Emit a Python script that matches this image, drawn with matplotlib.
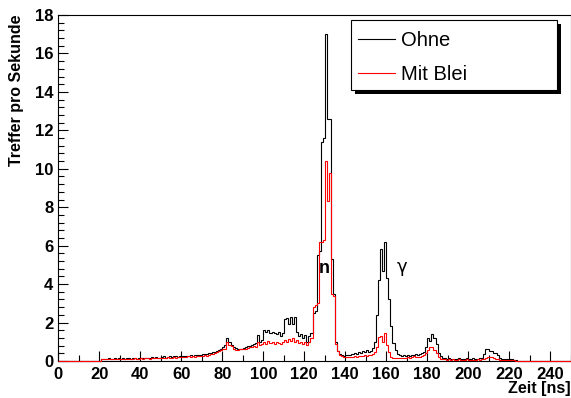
import numpy as np
import matplotlib
matplotlib.use("Agg")
import matplotlib.pyplot as plt
from matplotlib.patches import Rectangle
from matplotlib.lines import Line2D
from matplotlib.ticker import MultipleLocator

# Trefferraten je 1-ns-Bin, beginnend bei t = 20 ns
t_start = 20
ohne = [
    0.00, 0.10, 0.12, 0.10, 0.14, 0.12, 0.10, 0.15, 0.12, 0.14,
    0.12, 0.15, 0.13, 0.18, 0.14, 0.12, 0.16, 0.14, 0.13, 0.15,
    0.14, 0.16, 0.18, 0.15, 0.17, 0.20, 0.16, 0.22, 0.18, 0.17,
    0.20, 0.24, 0.18, 0.22, 0.26, 0.20, 0.24, 0.27, 0.22, 0.25,
    0.26, 0.24, 0.28, 0.25, 0.30, 0.27, 0.29, 0.32, 0.30, 0.33,
    0.36, 0.34, 0.38, 0.40, 0.42, 0.45, 0.48, 0.52, 0.56, 0.62,
    0.75, 0.85, 1.18, 1.00, 0.85, 0.75, 0.70, 0.65, 0.62, 0.65,
    0.70, 0.72, 0.80, 0.78, 0.85, 0.90, 0.92, 1.35, 1.00, 1.10,
    1.60, 1.50, 1.60, 1.45, 1.50, 1.45, 1.40, 1.50, 1.30, 1.45,
    2.20, 2.25, 1.90, 2.30, 1.90, 2.30, 1.50, 1.30, 1.40, 1.20,
    1.35, 1.00, 1.30, 1.45, 2.50, 2.60, 5.50, 5.70, 11.4, 11.6,
    17.0, 12.6, 12.6, 5.30, 3.50, 1.00, 0.50, 0.35, 0.30, 0.28,
    0.30, 0.32, 0.30, 0.35, 0.40, 0.38, 0.45, 0.42, 0.50, 0.45,
    0.55, 0.48, 0.50, 0.70, 1.00, 2.40, 4.20, 5.85, 4.70, 6.20,
    4.30, 3.20, 1.80, 0.95, 0.55, 0.35, 0.30, 0.28, 0.30, 0.25,
    0.30, 0.28, 0.32, 0.30, 0.35, 0.32, 0.35, 0.40, 0.45, 0.75,
    1.20, 1.05, 1.40, 1.20, 0.90, 0.40, 0.25, 0.18, 0.15, 0.12,
    0.15, 0.10, 0.12, 0.10, 0.12, 0.15, 0.10, 0.12, 0.10, 0.14,
    0.12, 0.10, 0.15, 0.10, 0.12, 0.14, 0.15, 0.35, 0.60, 0.60,
    0.50, 0.50, 0.42, 0.40, 0.30, 0.15, 0.12, 0.10, 0.12, 0.10,
    0.08, 0.10, 0.06, 0.04,
]
mit_blei = [
    0.00, 0.08, 0.10, 0.08, 0.10, 0.08, 0.10, 0.12, 0.10, 0.08,
    0.10, 0.10, 0.12, 0.10, 0.12, 0.10, 0.12, 0.14, 0.10, 0.12,
    0.14, 0.12, 0.14, 0.16, 0.12, 0.14, 0.16, 0.14, 0.18, 0.15,
    0.16, 0.18, 0.15, 0.20, 0.18, 0.16, 0.20, 0.18, 0.22, 0.20,
    0.22, 0.20, 0.22, 0.24, 0.22, 0.25, 0.22, 0.26, 0.24, 0.28,
    0.26, 0.30, 0.28, 0.32, 0.35, 0.38, 0.42, 0.45, 0.50, 0.55,
    0.60, 0.65, 1.00, 0.85, 0.80, 0.60, 0.55, 0.55, 0.60, 0.65,
    0.60, 0.65, 0.70, 0.72, 0.75, 0.80, 0.75, 1.00, 0.85, 0.90,
    1.00, 0.90, 1.05, 0.95, 1.00, 0.90, 1.00, 0.95, 0.90, 1.00,
    1.10, 1.00, 1.15, 1.05, 1.20, 1.00, 1.10, 0.95, 1.00, 0.90,
    1.00, 0.85, 1.00, 1.20, 2.80, 2.90, 3.00, 6.20, 6.20, 6.30,
    10.4, 8.30, 9.80, 3.50, 3.40, 0.90, 0.50, 0.30, 0.25, 0.22,
    0.20, 0.22, 0.20, 0.22, 0.25, 0.22, 0.25, 0.28, 0.25, 0.30,
    0.28, 0.30, 0.32, 0.35, 0.45, 0.75, 1.25, 1.30, 1.00, 1.45,
    0.85, 0.45, 0.22, 0.18, 0.15, 0.18, 0.15, 0.16, 0.15, 0.18,
    0.20, 0.18, 0.22, 0.25, 0.22, 0.20, 0.22, 0.25, 0.30, 0.40,
    0.55, 0.75, 0.75, 0.55, 0.40, 0.20, 0.12, 0.10, 0.08, 0.07,
    0.08, 0.06, 0.08, 0.07, 0.06, 0.08, 0.07, 0.06, 0.07, 0.08,
    0.06, 0.07, 0.06, 0.07, 0.08, 0.07, 0.08, 0.10, 0.15, 0.20,
    0.22, 0.20, 0.15, 0.12, 0.08, 0.06, 0.05, 0.06, 0.05, 0.04,
    0.05, 0.04, 0.03, 0.02,
]

t_max = 250
edges = np.arange(0, t_max + 1)


def full_hist(vals):
    h = np.zeros(t_max)
    h[t_start:t_start + len(vals)] = vals
    return h


W, H = 571, 398
fig = plt.figure(figsize=(W / 100, H / 100), dpi=100)


def fx(px):
    return px / W


def fy(py):
    return 1 - py / H


ax = fig.add_axes([fx(58.3), fy(361), fx(570.8) - fx(58.3), fy(15) - fy(361)])

ax.stairs(full_hist(ohne), edges, color="black", lw=0.8, clip_on=False, zorder=3)
ax.stairs(full_hist(mit_blei), edges, color="red", lw=0.8, clip_on=False, zorder=3.1)

ax.set_xlim(0, t_max)
ax.set_ylim(0, 18)

bold = dict(family="Liberation Sans", weight="bold")
ax.xaxis.set_major_locator(MultipleLocator(20))
ax.xaxis.set_minor_locator(MultipleLocator(10))
ax.yaxis.set_major_locator(MultipleLocator(2))
ax.yaxis.set_minor_locator(MultipleLocator(0.4))
ax.tick_params(which="both", direction="in", top=False, right=False,
               width=0.8, colors="black")
ax.tick_params(which="major", length=7.5)
ax.tick_params(which="minor", length=4)
ax.tick_params(axis="x", pad=4)
ax.tick_params(axis="y", pad=3.5)
for lab in ax.get_xticklabels() + ax.get_yticklabels():
    lab.set_fontproperties(matplotlib.font_manager.FontProperties(size=12, **bold))

for s in ax.spines.values():
    s.set_linewidth(0.8)

ax.set_xlabel("Zeit [ns]", loc="right", fontsize=11.5, **bold)
ax.xaxis.set_label_coords(1.0, -0.058)
ax.set_ylabel("Treffer pro Sekunde", loc="top", fontsize=11.5, **bold)
ax.yaxis.set_label_coords(-0.067, 1.0)

ax.text(129.7, 4.6, "n", ha="center", va="baseline", fontsize=13, **bold)
ax.text(167.5, 4.65, "γ", ha="center", va="baseline", fontsize=13,
        family="DejaVu Sans")

# Legende mit Schattenkasten
bx0, by0, bx1, by1 = 350.5, 20, 557, 89.5
fig.patches.append(Rectangle((fx(bx0 + 4), fy(by1 + 4)), fx(bx1 - bx0), fy(by0) - fy(by1),
                             transform=fig.transFigure, facecolor="black",
                             edgecolor="black", lw=0))
fig.patches.append(Rectangle((fx(bx0), fy(by1)), fx(bx1 - bx0), fy(by0) - fy(by1),
                             transform=fig.transFigure, facecolor="white",
                             edgecolor="black", lw=0.8))
for yy, col, name in [(38.5, "black", "Ohne"), (73, "red", "Mit Blei")]:
    fig.add_artist(Line2D([fx(358), fx(395)], [fy(yy), fy(yy)], color=col, lw=0.8,
                          transform=fig.transFigure))
    fig.text(fx(401), fy(yy + 7.5), name, family="Liberation Sans", fontsize=14.5,
             va="baseline", ha="left")

fig.savefig("out.png", dpi=100)
